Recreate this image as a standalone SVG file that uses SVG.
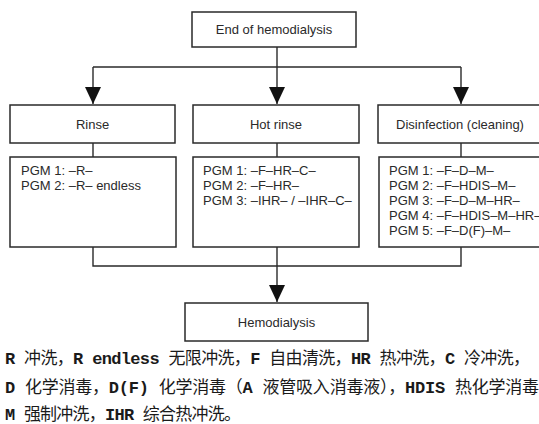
<svg xmlns="http://www.w3.org/2000/svg" width="539" height="424" viewBox="0 0 539 424">
  <defs>
    <marker id="arrow" markerUnits="userSpaceOnUse" markerWidth="17" markerHeight="16" refX="17" refY="8" orient="auto">
      <path d="M0,0 L17,8 L0,16 z" fill="#111"/>
    </marker>
  </defs>
  <style>
    .box { fill: #fff; stroke: #2a2a2a; stroke-width: 1.5; }
    .wire { fill: none; stroke: #2a2a2a; stroke-width: 1.4; }
    .lbl { font-family: "Liberation Sans", Arial, sans-serif; font-size: 13px; fill: #2a2a2a; }
    .mid { text-anchor: middle; }
    .note { font-family: "Liberation Mono", "Noto Sans CJK SC", monospace; font-size: 17px; fill: #1a1a1a; }
    .lat { font-weight: bold; }
  </style>
  <rect width="539" height="424" fill="#fff"/>

  <g id="connectors">
    <line class="wire" x1="277" y1="47" x2="277" y2="67"/>
    <line class="wire" x1="93" y1="67" x2="461" y2="67"/>
    <line class="wire" x1="93" y1="67" x2="93" y2="104" marker-end="url(#arrow)"/>
    <line class="wire" x1="277" y1="67" x2="277" y2="104" marker-end="url(#arrow)"/>
    <line class="wire" x1="461" y1="67" x2="461" y2="104" marker-end="url(#arrow)"/>
    <line class="wire" x1="93" y1="143" x2="93" y2="157"/>
    <line class="wire" x1="277" y1="143" x2="277" y2="157"/>
    <line class="wire" x1="461" y1="143" x2="461" y2="157"/>
    <polyline class="wire" points="93,247 93,266 461,266 461,247"/>
    <line class="wire" x1="277" y1="247" x2="277" y2="266"/>
    <line class="wire" x1="277" y1="266" x2="277" y2="302" marker-end="url(#arrow)"/>
  </g>

  <g id="end-of-hemodialysis">
    <rect class="box" x="192" y="12" width="164" height="35"/>
    <text class="lbl mid" x="274" y="34">End of hemodialysis</text>
  </g>

  <g id="rinse">
    <rect class="box" x="10" y="105" width="165" height="38"/>
    <text class="lbl mid" x="92.5" y="128.5">Rinse</text>
  </g>

  <g id="hot-rinse">
    <rect class="box" x="193" y="105" width="166" height="38"/>
    <text class="lbl mid" x="276" y="128.5">Hot rinse</text>
  </g>

  <g id="disinfection">
    <rect class="box" x="378" y="105" width="166" height="38"/>
    <text class="lbl mid" x="460" y="128.5">Disinfection (cleaning)</text>
  </g>

  <g id="rinse-programs">
    <rect class="box" x="10" y="157" width="166" height="90"/>
    <text class="lbl" x="21" y="175">PGM 1: –R–</text>
    <text class="lbl" x="21" y="190">PGM 2: –R– endless</text>
  </g>

  <g id="hot-rinse-programs">
    <rect class="box" x="193" y="157" width="166" height="90"/>
    <text class="lbl" x="203" y="175">PGM 1: –F–HR–C–</text>
    <text class="lbl" x="203" y="190">PGM 2: –F–HR–</text>
    <text class="lbl" x="203" y="205">PGM 3: –IHR– / –IHR–C–</text>
  </g>

  <g id="disinfection-programs">
    <rect class="box" x="379" y="157" width="166" height="90"/>
    <text class="lbl" x="389" y="175">PGM 1: –F–D–M–</text>
    <text class="lbl" x="389" y="190">PGM 2: –F–HDIS–M–</text>
    <text class="lbl" x="389" y="205">PGM 3: –F–D–M–HR–</text>
    <text class="lbl" x="389" y="220">PGM 4: –F–HDIS–M–HR–</text>
    <text class="lbl" x="389" y="235">PGM 5: –F–D(F)–M–</text>
  </g>

  <g id="hemodialysis">
    <rect class="box" x="185" y="303" width="183" height="38"/>
    <text class="lbl mid" x="276.5" y="326.5">Hemodialysis</text>
  </g>

  <g id="legend">
    <text class="note" x="5" y="364" textLength="525" lengthAdjust="spacing"><tspan class="lat">R</tspan> 冲洗，<tspan class="lat">R endless</tspan> 无限冲洗，<tspan class="lat">F</tspan> 自由清洗，<tspan class="lat">HR</tspan> 热冲洗，<tspan class="lat">C</tspan> 冷冲洗，</text>
    <text class="note" x="5" y="393" textLength="534" lengthAdjust="spacing"><tspan class="lat">D</tspan> 化学消毒，<tspan class="lat">D(F)</tspan> 化学消毒（<tspan class="lat">A</tspan> 液管吸入消毒液），<tspan class="lat">HDIS</tspan> 热化学消毒</text>
    <text class="note" x="5" y="420" textLength="236" lengthAdjust="spacing"><tspan class="lat">M</tspan> 强制冲洗，<tspan class="lat">IHR</tspan> 综合热冲洗。</text>
  </g>
</svg>
